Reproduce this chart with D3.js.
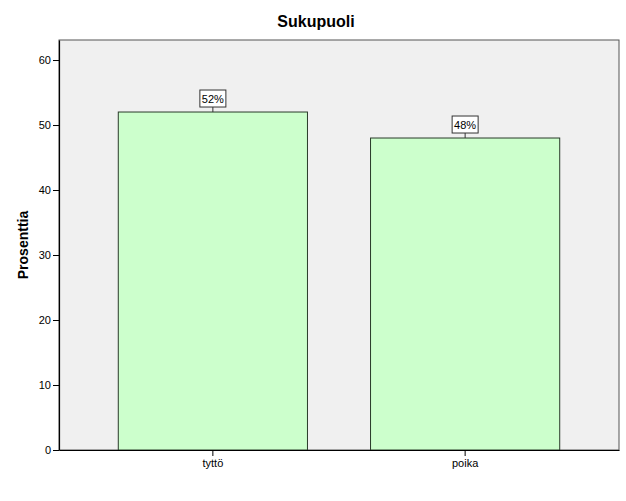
<!DOCTYPE html>
<html>
<head>
<meta charset="utf-8">
<script src="https://cdn.jsdelivr.net/npm/d3@7"></script>
<style>
  body { margin: 0; background: #fff; }
  svg { font-family: "Liberation Sans", Arial, sans-serif; }
</style>
</head>
<body>
<svg width="626" height="501"></svg>
<script>
// Sukupuoli (gender) distribution, percent
const categories = ['tyttö', 'poika'];
const percents = [52, 48];
const yTicks = [0, 10, 20, 30, 40, 50, 60];

const svg = d3.select('svg');

const plotLeft = 59, plotRight = 619, plotTop = 40, plotBottom = 450;

const xScale = d3.scaleBand()
  .domain(categories)
  .range([plotLeft, plotRight])
  .paddingInner(0.25)
  .paddingOuter(0.235);

const yScale = d3.scaleLinear()
  .domain([0, 63.08])
  .range([plotBottom, plotTop]);

// plot background
svg.append('rect')
  .attr('x', plotLeft)
  .attr('y', plotTop)
  .attr('width', plotRight - plotLeft)
  .attr('height', plotBottom - plotTop)
  .attr('fill', '#f0f0f0')
  .attr('stroke', '#555')
  .attr('stroke-width', 1);

// bars
svg.selectAll('.bar')
  .data(categories)
  .enter()
  .append('rect')
  .attr('class', 'bar')
  .attr('x', (d) => xScale(d))
  .attr('y', (d, i) => yScale(percents[i]))
  .attr('width', xScale.bandwidth())
  .attr('height', (d, i) => plotBottom - yScale(percents[i]))
  .attr('fill', '#ccffcc')
  .attr('stroke', '#2a3a2a')
  .attr('stroke-width', 1);

// axes
const yAxis = svg.append('g')
  .attr('transform', `translate(${plotLeft}, 0)`)
  .call(d3.axisLeft(yScale).tickValues(yTicks).tickSizeInner(6).tickSizeOuter(0).tickPadding(2));

const xAxis = svg.append('g')
  .attr('transform', `translate(0, ${plotBottom})`)
  .call(d3.axisBottom(xScale).tickSizeInner(6).tickSizeOuter(0).tickPadding(3));

[yAxis, xAxis].forEach((g) => {
  g.select('.domain').attr('stroke', '#000').attr('stroke-width', 1.2);
  g.selectAll('.tick line').attr('stroke', '#000');
  g.selectAll('.tick text')
    .attr('fill', '#000')
    .style('font-size', '11px')
    .style('font-family', '"Liberation Sans", Arial, sans-serif');
});

// value labels with boxes
const labels = svg.selectAll('.vlabel')
  .data(categories)
  .enter()
  .append('g')
  .attr('class', 'vlabel');

labels.append('line')
  .attr('x1', (d) => xScale(d) + xScale.bandwidth() / 2)
  .attr('x2', (d) => xScale(d) + xScale.bandwidth() / 2)
  .attr('y1', (d, i) => yScale(percents[i]) - 5)
  .attr('y2', (d, i) => yScale(percents[i]))
  .attr('stroke', '#333');

labels.append('rect')
  .attr('x', (d) => xScale(d) + xScale.bandwidth() / 2 - 13)
  .attr('y', (d, i) => yScale(percents[i]) - 22)
  .attr('width', 26)
  .attr('height', 17)
  .attr('fill', '#fff')
  .attr('stroke', '#333');

labels.append('text')
  .attr('x', (d) => xScale(d) + xScale.bandwidth() / 2)
  .attr('y', (d, i) => yScale(percents[i]) - 9)
  .attr('text-anchor', 'middle')
  .style('font-size', '11px')
  .text((d, i) => `${percents[i]}%`);

// title
svg.append('text')
  .attr('x', 316)
  .attr('y', 27)
  .attr('text-anchor', 'middle')
  .style('font-size', '16px')
  .style('font-weight', 'bold')
  .text('Sukupuoli');

// y label
svg.append('text')
  .attr('transform', `translate(28, ${(plotTop + plotBottom) / 2}) rotate(-90)`)
  .attr('text-anchor', 'middle')
  .style('font-size', '14px')
  .style('font-weight', 'bold')
  .text('Prosenttia');
</script>
</body>
</html>
